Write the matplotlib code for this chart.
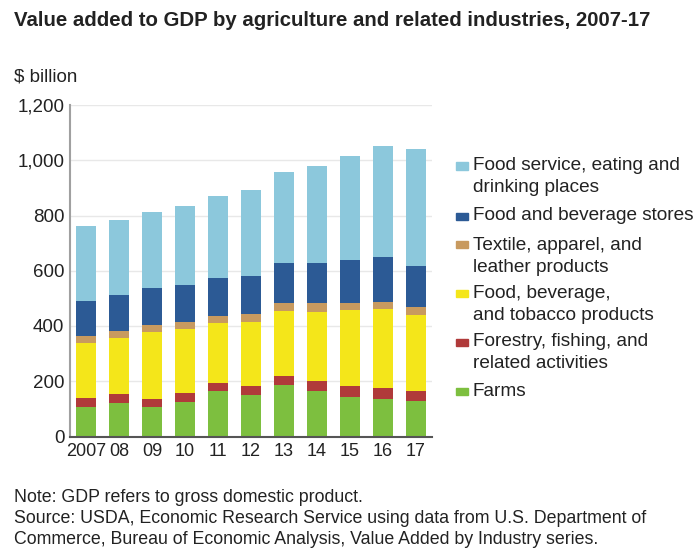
import matplotlib
matplotlib.use("Agg")
import matplotlib.pyplot as plt
from matplotlib.patches import Rectangle
import numpy as np

plt.rcParams['font.family'] = ['Liberation Sans', 'DejaVu Sans']

years = ["2007", "08", "09", "10", "11", "12", "13", "14", "15", "16", "17"]

# $ billion, stacked bottom to top
farms = [108, 122, 108, 126, 165, 150, 186, 166, 144, 136, 130]
forestry = [32, 31, 28, 30, 30, 33, 33, 35, 39, 38, 36]
food_mfg = [197, 202, 243, 233, 217, 232, 236, 250, 275, 286, 273]
textile = [28, 28, 24, 24, 24, 27, 30, 31, 27, 28, 31]
stores = [125, 129, 133, 137, 138, 140, 144, 147, 153, 162, 147]
food_service = [272, 271, 277, 285, 295, 312, 329, 351, 377, 401, 425]

series = [farms, forestry, food_mfg, textile, stores, food_service]
colors = ["#7dbf3f", "#b03a3a", "#f4e61a", "#c89a5f", "#2c5a95", "#8cc8dc"]

legend_labels = [
    "Food service, eating and\ndrinking places",
    "Food and beverage stores",
    "Textile, apparel, and\nleather products",
    "Food, beverage,\nand tobacco products",
    "Forestry, fishing, and\nrelated activities",
    "Farms",
]
legend_colors = colors[::-1]

footer_lines = [
    "Note: GDP refers to gross domestic product.",
    "Source: USDA, Economic Research Service using data from U.S. Department of",
    "Commerce, Bureau of Economic Analysis, Value Added by Industry series.",
]

W, H = 698, 552
TXT = "#222222"
fig = plt.figure(figsize=(W / 100, H / 100), dpi=100)
ax = fig.add_axes([70 / W, 1 - 436.5 / H, (432 - 70) / W, (436.5 - 105) / H])

x = np.arange(len(years))
bottom = np.zeros(len(years))
for vals, c in zip(series, colors):
    ax.bar(x, vals, bottom=bottom, width=0.61, color=c, zorder=2)
    bottom += np.array(vals)

ax.set_xlim(-0.5, len(years) - 0.5)
ax.set_ylim(0, 1200)
ax.set_yticks(range(0, 1201, 200))
ax.set_yticklabels([f"{v:,}" for v in range(0, 1201, 200)])
ax.set_xticks(x)
ax.set_xticklabels(years)
ax.yaxis.grid(True, color="#e8e8e8", linewidth=1, zorder=0)
ax.tick_params(axis="both", length=0, colors=TXT)
ax.tick_params(axis="x", pad=4.5, labelsize=13)
ax.tick_params(axis="y", pad=4, labelsize=13.5)
for s in ["top", "right"]:
    ax.spines[s].set_visible(False)
ax.spines["left"].set_color("#a0a0a0")
ax.spines["left"].set_linewidth(1.5)
ax.spines["bottom"].set_color("#555555")
ax.spines["bottom"].set_linewidth(1.5)

fig.text(14 / W, 1 - 20 / H, "Value added to GDP by agriculture and related industries, 2007-17",
         fontsize=14.7, fontweight="bold", color=TXT, va="center", ha="left")
fig.text(14 / W, 1 - 77 / H, "$ billion", fontsize=13.5, color=TXT, va="center", ha="left")

# Legend drawn beside the bars, one text per line
legend_y = [166, 216, 245, 293, 342, 391]
line_gap = 22
for lab, c, yy in zip(legend_labels, legend_colors, legend_y):
    fig.patches.append(Rectangle((456 / W, 1 - (yy + 3.5) / H), 12 / W, 7 / H,
                                 transform=fig.transFigure, color=c))
    for i, line in enumerate(lab.split("\n")):
        fig.text(473 / W, 1 - (yy + i * line_gap) / H, line, fontsize=13.7, color=TXT,
                 va="center", ha="left")

for i, line in enumerate(footer_lines):
    fig.text(14 / W, 1 - (498 + i * 20.5) / H, line, fontsize=12.75, color=TXT,
             va="center", ha="left")

fig.savefig("out.png", dpi=100)
